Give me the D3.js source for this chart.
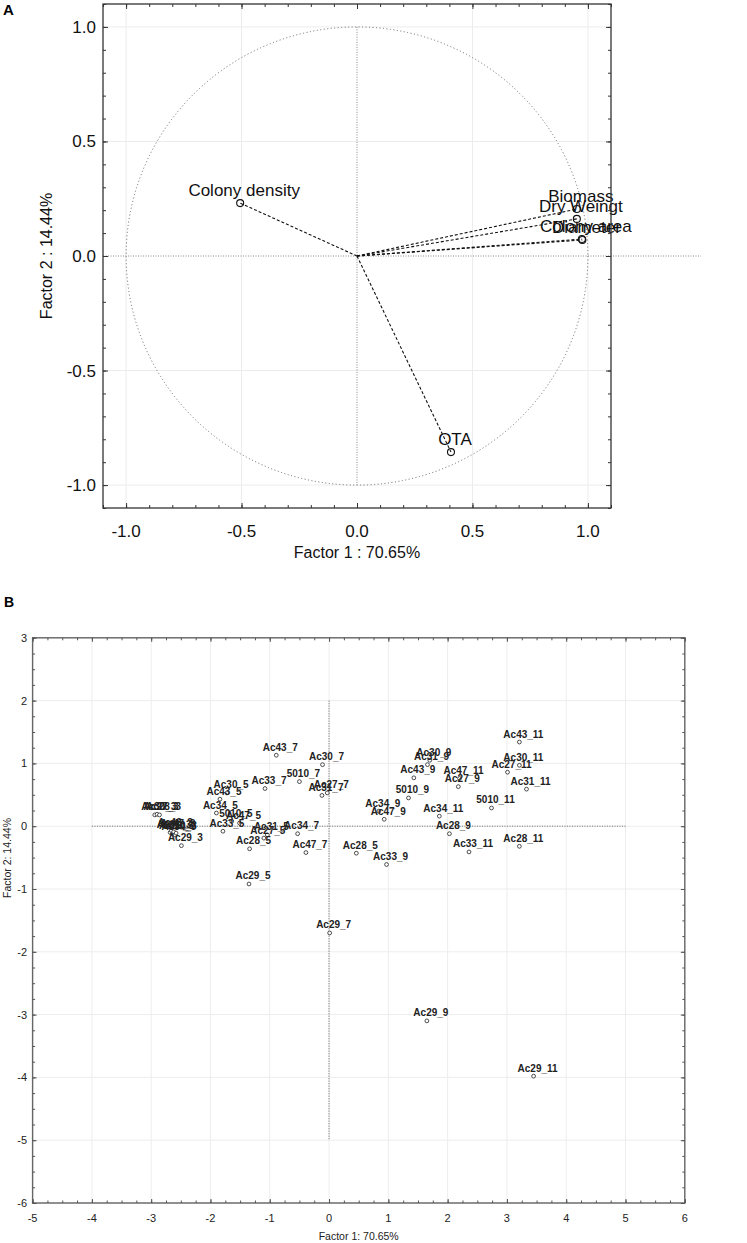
<!DOCTYPE html>
<html><head><meta charset="utf-8">
<script src="https://cdn.jsdelivr.net/npm/d3@7"></script>
<style>
body{margin:0;background:#fff}
svg{display:block}
text{font-family:"Liberation Sans",Arial,Helvetica,sans-serif}
</style>
</head><body>
<svg id="c" width="747" height="1243"></svg>
<script>
// ---------- Panel A: variable loadings ----------
const varNames = ["Colony density", "OTA", "Biomass", "Dry Weingt", "Colony area", "Diameter"];
const varF1 = [-0.506, 0.407, 0.952, 0.952, 0.974, 0.976];
const varF2 = [0.231, -0.856, 0.205, 0.162, 0.074, 0.070];
const ticksA = [-1.0, -0.5, 0.0, 0.5, 1.0];
const titleAx = "Factor 1 : 70.65%";
const titleAy = "Factor 2 : 14.44%";

// ---------- Panel B: case scores ----------
const caseNames = [
  "Ac30_3","Ac27_3","Ac28_3","Ac31_3","Ac43_3","Ac33_3","Ac47_3","Ac34_3","5010_3","Ac29_3",
  "Ac43_5","Ac30_5","Ac34_5","5010_5","Ac47_5","Ac33_5","Ac27_5","Ac31_5","Ac28_5","Ac29_5",
  "Ac43_7","Ac30_7","5010_7","Ac33_7","Ac31_7","Ac27_7","Ac34_7","Ac47_7","Ac28_5","Ac29_7",
  "Ac30_9","Ac31_9","Ac43_9","Ac27_9","5010_9","Ac34_9","Ac47_9","Ac28_9","Ac33_9","Ac29_9",
  "Ac43_11","Ac30_11","Ac27_11","Ac47_11","Ac31_11","5010_11","Ac34_11","Ac28_11","Ac33_11","Ac29_11"
];
const caseF1 = [
  -2.94,-2.90,-2.86,-2.68,-2.66,-2.64,-2.62,-2.60,-2.58,-2.49,
  -1.84,-1.72,-1.90,-1.64,-1.51,-1.79,-1.10,-1.04,-1.34,-1.35,
  -0.89,-0.11,-0.50,-1.08,-0.12,-0.03,-0.53,-0.39,0.46,0.01,
  1.70,1.66,1.43,2.18,1.34,0.84,0.93,2.03,0.97,1.65,
  3.21,3.21,3.01,2.20,3.33,2.74,1.86,3.21,2.36,3.45
];
const caseF2 = [
  0.18,0.19,0.18,-0.10,-0.07,-0.12,-0.09,-0.14,-0.11,-0.31,
  0.43,0.53,0.21,0.08,0.05,-0.08,-0.19,-0.14,-0.36,-0.92,
  1.13,0.98,0.71,0.60,0.49,0.53,-0.12,-0.42,-0.43,-1.70,
  1.05,0.98,0.77,0.63,0.45,0.24,0.11,-0.12,-0.61,-3.10,
  1.34,0.97,0.86,0.76,0.59,0.29,0.16,-0.32,-0.41,-3.98
];
const ticksBx = [-5,-4,-3,-2,-1,0,1,2,3,4,5,6];
const ticksBy = [3,2,1,0,-1,-2,-3,-4,-5,-6];
const titleBx = "Factor 1: 70.65%";
const titleBy = "Factor 2: 14.44%";

const svg = d3.select("#c");
const fmtA = d => d.toFixed(1);   // hyphen-minus, as in the reference

function ticksAll(g, x, y, mx, nx, my, ny, majLen, minLen, color) {
  const [x0, x1] = x.range(), [y0, y1] = y.range();
  const mk = (axis, tr) => {
    const a = g.append("g").attr("transform", tr).call(axis);
    a.select(".domain").remove();
    a.selectAll("line").attr("stroke", color);
    a.selectAll("text").remove();
  };
  mk(d3.axisBottom(x).tickValues(mx).tickSize(-majLen), `translate(0,${y0})`);
  mk(d3.axisBottom(x).tickValues(nx).tickSize(-minLen), `translate(0,${y0})`);
  mk(d3.axisTop(x).tickValues(mx).tickSize(-majLen), `translate(0,${y1})`);
  mk(d3.axisTop(x).tickValues(nx).tickSize(-minLen), `translate(0,${y1})`);
  mk(d3.axisLeft(y).tickValues(my).tickSize(-majLen), `translate(${x0},0)`);
  mk(d3.axisLeft(y).tickValues(ny).tickSize(-minLen), `translate(${x0},0)`);
  mk(d3.axisRight(y).tickValues(my).tickSize(-majLen), `translate(${x1},0)`);
  mk(d3.axisRight(y).tickValues(ny).tickSize(-minLen), `translate(${x1},0)`);
}

// ================= PANEL A =================
const xA = d3.scaleLinear().domain([-1.1, 1.1]).range([103, 611]);
const yA = d3.scaleLinear().domain([-1.1, 1.1]).range([508, 4]);
const gA = svg.append("g");

gA.selectAll(".gx").data(ticksA.filter(d => d !== 0)).join("line")
  .attr("x1", d => xA(d)).attr("x2", d => xA(d)).attr("y1", yA(1.1)).attr("y2", yA(-1.1))
  .attr("stroke", "#ececec").attr("stroke-width", 1);
gA.selectAll(".gy").data(ticksA.filter(d => d !== 0)).join("line")
  .attr("y1", d => yA(d)).attr("y2", d => yA(d)).attr("x1", xA(-1.1)).attr("x2", xA(1.1))
  .attr("stroke", "#ececec").attr("stroke-width", 1);

gA.append("ellipse").attr("cx", xA(0)).attr("cy", yA(0))
  .attr("rx", xA(1) - xA(0)).attr("ry", yA(0) - yA(1))
  .attr("fill", "none").attr("stroke", "#666").attr("stroke-width", 1).attr("stroke-dasharray", "1,2.5");

gA.append("line").attr("x1", xA(-1.1)).attr("x2", xA(1.49)).attr("y1", yA(0)).attr("y2", yA(0))
  .attr("stroke", "#888").attr("stroke-dasharray", "1,1.5");
gA.append("line").attr("x1", xA(0)).attr("x2", xA(0)).attr("y1", yA(1)).attr("y2", yA(-1))
  .attr("stroke", "#888").attr("stroke-dasharray", "1,1.5");

const vA = varNames.map((n, i) => ({n, x: varF1[i], y: varF2[i]}));
gA.selectAll(".vec").data(vA).join("line")
  .attr("x1", xA(0)).attr("y1", yA(0)).attr("x2", d => xA(d.x)).attr("y2", d => yA(d.y))
  .attr("stroke", "#111").attr("stroke-width", 1.1).attr("stroke-dasharray", "3,2");
gA.selectAll(".pt").data(vA).join("circle")
  .attr("cx", d => xA(d.x)).attr("cy", d => yA(d.y)).attr("r", 3.5)
  .attr("fill", "none").attr("stroke", "#111").attr("stroke-width", 1.1);
gA.selectAll(".lab").data(vA).join("text")
  .attr("x", d => xA(d.x) + 4).attr("y", d => yA(d.y) - 7)
  .attr("text-anchor", "middle").attr("font-size", 17).attr("fill", "#111")
  .text(d => d.n);

gA.append("rect").attr("x", xA(-1.1)).attr("y", yA(1.1))
  .attr("width", xA(1.1) - xA(-1.1)).attr("height", yA(-1.1) - yA(1.1))
  .attr("fill", "none").attr("stroke", "#333").attr("stroke-width", 1.3);

const minorA = d3.range(-11, 12).map(d => d / 10);
ticksAll(gA, xA, yA, ticksA, minorA, ticksA, minorA, 5, 3, "#333");

gA.selectAll(".xl").data(ticksA).join("text")
  .attr("x", d => xA(d)).attr("y", 537).attr("text-anchor", "middle")
  .attr("font-size", 17).attr("fill", "#111").text(fmtA);
gA.selectAll(".yl").data(ticksA).join("text")
  .attr("x", 96).attr("y", d => yA(d) + 6).attr("text-anchor", "end")
  .attr("font-size", 17).attr("fill", "#111").text(fmtA);
gA.append("text").attr("x", xA(0)).attr("y", 558).attr("text-anchor", "middle")
  .attr("font-size", 16).attr("fill", "#111").text(titleAx);
gA.append("text").attr("transform", `translate(52,${yA(0)}) rotate(-90)`).attr("text-anchor", "middle")
  .attr("font-size", 16).attr("fill", "#111").text(titleAy);
svg.append("text").attr("x", 3).attr("y", 15).attr("font-size", 15).attr("font-weight", "bold").text("A");

// ================= PANEL B =================
const xB = d3.scaleLinear().domain([-5, 6]).range([32.6, 684.8]);
const yB = d3.scaleLinear().domain([-6, 3]).range([1203, 637.8]);
const gB = svg.append("g");

gB.selectAll(".gx").data(ticksBx).join("line")
  .attr("x1", d => xB(d)).attr("x2", d => xB(d)).attr("y1", yB(3)).attr("y2", yB(-6))
  .attr("stroke", "#ededed").attr("stroke-width", 1);
gB.selectAll(".gy").data(ticksBy).join("line")
  .attr("y1", d => yB(d)).attr("y2", d => yB(d)).attr("x1", xB(-5)).attr("x2", xB(6))
  .attr("stroke", "#ededed").attr("stroke-width", 1);

gB.append("line").attr("x1", xB(-4)).attr("x2", xB(5)).attr("y1", yB(0)).attr("y2", yB(0))
  .attr("stroke", "#777").attr("stroke-dasharray", "1.2,1.3");
gB.append("line").attr("x1", xB(0)).attr("x2", xB(0)).attr("y1", yB(2)).attr("y2", yB(-5))
  .attr("stroke", "#777").attr("stroke-dasharray", "1.2,1.3");

const cB = caseNames.map((n, i) => ({n, x: caseF1[i], y: caseF2[i]}));
gB.selectAll(".pt").data(cB).join("circle")
  .attr("cx", d => xB(d.x)).attr("cy", d => yB(d.y)).attr("r", 1.9)
  .attr("fill", "#fff").attr("stroke", "#222").attr("stroke-width", 0.8);
gB.selectAll(".lab").data(cB).join("text")
  .attr("x", d => xB(d.x) + 4).attr("y", d => yB(d.y) - 4.5)
  .attr("text-anchor", "middle").attr("font-size", 10).attr("font-weight", "bold").attr("fill", "#222")
  .text(d => d.n);

gB.append("rect").attr("x", xB(-5)).attr("y", yB(3))
  .attr("width", xB(6) - xB(-5)).attr("height", yB(-6) - yB(3))
  .attr("fill", "none").attr("stroke", "#666").attr("stroke-width", 1.4);

const minorBx = d3.range(-20, 25).map(d => d / 4);
const minorBy = d3.range(-24, 13).map(d => d / 4);
ticksAll(gB, xB, yB, ticksBx, minorBx, ticksBy, minorBy, 4, 2.5, "#555");

gB.selectAll(".xl").data(ticksBx).join("text")
  .attr("x", d => xB(d)).attr("y", 1222).attr("text-anchor", "middle")
  .attr("font-size", 11).attr("fill", "#222").text(d => String(d));
gB.selectAll(".yl").data(ticksBy).join("text")
  .attr("x", 27).attr("y", d => yB(d) + 4).attr("text-anchor", "end")
  .attr("font-size", 11).attr("fill", "#222").text(d => String(d));
gB.append("text").attr("x", (xB(-5) + xB(6)) / 2).attr("y", 1240).attr("text-anchor", "middle")
  .attr("font-size", 10.5).attr("fill", "#222").text(titleBx);
gB.append("text").attr("transform", `translate(11,858) rotate(-90)`).attr("text-anchor", "middle")
  .attr("font-size", 10.5).attr("fill", "#222").text(titleBy);
svg.append("text").attr("x", 4).attr("y", 607).attr("font-size", 14).attr("font-weight", "bold").text("B");
</script>
</body></html>
